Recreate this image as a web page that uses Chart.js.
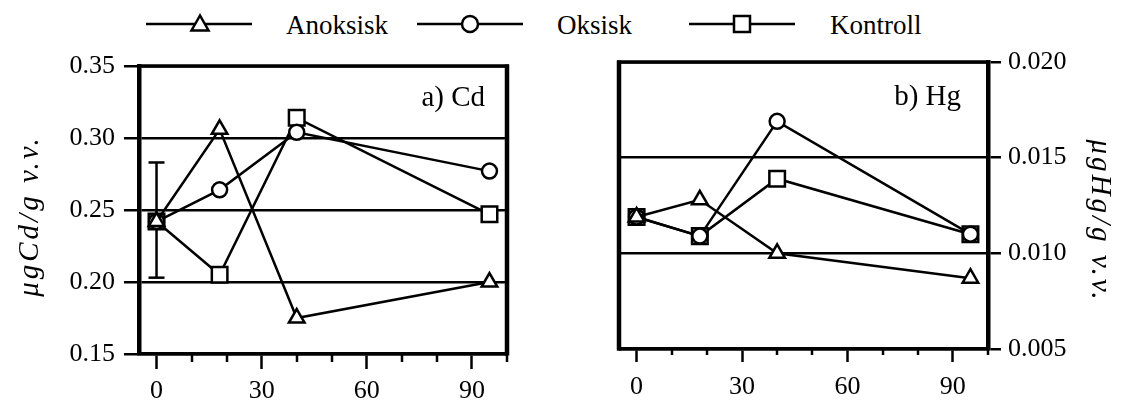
<!DOCTYPE html>
<html>
<head>
<meta charset="utf-8">
<script src="https://cdn.jsdelivr.net/npm/chart.js@4.4.1/dist/chart.umd.min.js"></script>
<style>
  html, body { margin: 0; padding: 0; background: #fff; }
  body { width: 1128px; height: 400px; position: relative; overflow: hidden; font-family: "Liberation Serif", "Times New Roman", serif; }
  .panel { position: absolute; top: 0; width: 564px; height: 400px; }
  .lg-sym { position: absolute; top: 12px; }
  .lg-txt { position: absolute; top: 12px; font-size: 27px; line-height: 27px; color: #000; white-space: nowrap; }
</style>
</head>
<body>
<svg class="lg-sym" style="left:146px" width="106" height="24">
  <line x1="0" y1="12" x2="106" y2="12" stroke="#000" stroke-width="2.5"/>
  <polygon points="54,3.5 45.5,18.5 62.5,18.5" fill="#fff" stroke="#000" stroke-width="2.5"/>
</svg>
<div class="lg-txt" style="left:286px">Anoksisk</div>
<svg class="lg-sym" style="left:417px" width="106" height="24">
  <line x1="0" y1="12" x2="106" y2="12" stroke="#000" stroke-width="2.5"/>
  <circle cx="53" cy="12" r="8" fill="#fff" stroke="#000" stroke-width="2.5"/>
</svg>
<div class="lg-txt" style="left:557px">Oksisk</div>
<svg class="lg-sym" style="left:689px" width="106" height="24">
  <line x1="0" y1="12" x2="106" y2="12" stroke="#000" stroke-width="2.5"/>
  <rect x="45" y="4" width="16" height="16" fill="#fff" stroke="#000" stroke-width="2.5"/>
</svg>
<div class="lg-txt" style="left:830px">Kontroll</div>

<div class="panel" style="left:0"><canvas id="cd"></canvas></div>
<div class="panel" style="left:564px"><canvas id="hg"></canvas></div>

<script>
// ---- data ----
const days = [0, 18, 40, 95];
const cdAnoksisk = [0.242, 0.306, 0.175, 0.200];
const cdOksisk   = [0.242, 0.264, 0.304, 0.277];
const cdKontroll = [0.242, 0.205, 0.314, 0.247];
const cdErrDay = [0, 0];
const cdErrRange = [0.203, 0.283];
const hgAnoksisk = [0.0119, 0.0128, 0.0100, 0.0087];
const hgOksisk   = [0.0119, 0.0109, 0.0169, 0.0110];
const hgKontroll = [0.0119, 0.0109, 0.0139, 0.0110];
const xTickLabels = [0, 30, 60, 90];
const seriesNames = ['Anoksisk', 'Oksisk', 'Kontroll'];

const FONT = "'Liberation Serif', 'Times New Roman', serif";
const pts = (xs, ys) => xs.map((x, i) => ({ x: x, y: ys[i] }));

function lineDs(label, ys, style, r) {
  return {
    label: label, data: pts(days, ys),
    borderColor: '#000', borderWidth: 2.5,
    pointStyle: style, pointRadius: r, pointHoverRadius: r,
    pointBackgroundColor: '#fff', pointBorderColor: '#000', pointBorderWidth: 2.5,
    tension: 0, fill: false
  };
}

const framePlugin = {
  id: 'frame',
  afterDraw(chart, args, opts) {
    const a = chart.chartArea, ctx = chart.ctx;
    ctx.save();
    ctx.strokeStyle = '#000';
    ctx.lineWidth = 3.5;
    ctx.beginPath();
    ctx.moveTo(a.left - 2, a.top); ctx.lineTo(a.right + 2, a.top);
    ctx.stroke();
    ctx.lineWidth = 4.5;
    ctx.beginPath();
    const sx = opts.side === 'left' ? a.left : a.right;
    ctx.moveTo(sx, a.top - 1.5); ctx.lineTo(sx, a.bottom + 1.5);
    ctx.stroke();
    ctx.restore();
  }
};

const minorTickPlugin = {
  id: 'minorTicks',
  afterDraw(chart, args, o) {
    const s = chart.scales.x, ctx = chart.ctx;
    ctx.save();
    ctx.strokeStyle = '#000';
    ctx.lineWidth = 2.5;
    s.ticks.forEach(t => {
      if (xTickLabels.indexOf(t.value) === -1) {
        const px = Math.round(s.getPixelForValue(t.value));
        ctx.beginPath();
        ctx.moveTo(px, s.top); ctx.lineTo(px, s.top + o.len);
        ctx.stroke();
      }
    });
    ctx.restore();
  }
};

const textPlugin = {
  id: 'texts',
  afterDraw(chart, args, o) {
    const a = chart.chartArea, ctx = chart.ctx;
    ctx.save();
    ctx.fillStyle = '#000';
    ctx.font = '29px ' + FONT;
    ctx.textAlign = 'right';
    ctx.textBaseline = 'alphabetic';
    ctx.fillText(o.panel, a.right - o.panelInset, a.top + o.panelBase);
    ctx.font = 'italic 29px ' + FONT;
    try { ctx.letterSpacing = '3px'; } catch (e) {}
    ctx.textAlign = 'center';
    ctx.textBaseline = 'middle';
    ctx.translate(o.titleX, o.titleY);
    ctx.rotate(o.titleRot);
    ctx.fillText(o.title, 0, 0);
    ctx.restore();
  }
};

function xScale(h, tl, pad) {
  return {
    type: 'linear', min: -5, max: 100,
    afterFit(s) { s.height = h; },
    ticks: {
      stepSize: 10, includeBounds: false, autoSkip: false, maxRotation: 0,
      color: '#000', font: { family: FONT, size: 26 }, padding: pad,
      callback: v => xTickLabels.indexOf(v) !== -1 ? String(v) : ''
    },
    grid: {
      drawOnChartArea: false, drawTicks: true, tickLength: tl, tickWidth: 2.5,
      tickColor: c => (c.tick && xTickLabels.indexOf(c.tick.value) !== -1) ? '#000' : 'rgba(0,0,0,0)'
    },
    border: { display: true, color: '#000', width: 3.5 }
  };
}

function yScale(pos, min, max, step, dec, w, tl, pad) {
  return {
    type: 'linear', position: pos, min: min, max: max,
    afterFit(s) { s.width = w; },
    ticks: {
      stepSize: step, color: '#000', font: { family: FONT, size: 26 }, padding: pad,
      callback: v => Number(v).toFixed(dec)
    },
    grid: {
      drawOnChartArea: true, color: '#000', lineWidth: 2.5,
      drawTicks: true, tickLength: tl, tickWidth: 2.5, tickColor: '#000'
    },
    border: { display: true, color: '#000', width: 4.5 }
  };
}

const common = { responsive: true, maintainAspectRatio: false, animation: false, events: [] };

new Chart(document.getElementById('cd'), {
  type: 'line',
  data: {
    datasets: [
      lineDs(seriesNames[0], cdAnoksisk, 'triangle', 9),
      lineDs(seriesNames[1], cdOksisk, 'circle', 7.5),
      lineDs(seriesNames[2], cdKontroll, 'rect', 11),
      {
        label: 'sd', data: pts(cdErrDay, cdErrRange),
        borderColor: '#000', borderWidth: 2.5,
        pointStyle: 'line', pointRadius: 8, pointBorderColor: '#000', pointBorderWidth: 2.5
      }
    ]
  },
  options: Object.assign({}, common, {
    layout: { padding: { left: 0, right: 57, top: 66, bottom: 0 } },
    scales: { x: xScale(46, 15, 7), y: yScale('left', 0.15, 0.35, 0.05, 2, 139, 15, 9) },
    plugins: {
      legend: { display: false }, tooltip: { enabled: false },
      frame: { side: 'right' },
      minorTicks: { len: 8 },
      texts: { panel: 'a) Cd', panelInset: 22, panelBase: 40, title: 'μgCd/g v.v.', titleX: 30, titleY: 216, titleRot: -Math.PI / 2 }
    }
  }),
  plugins: [framePlugin, minorTickPlugin, textPlugin]
});

new Chart(document.getElementById('hg'), {
  type: 'line',
  data: {
    datasets: [
      lineDs(seriesNames[0], hgAnoksisk, 'triangle', 9),
      lineDs(seriesNames[1], hgOksisk, 'circle', 7.5),
      lineDs(seriesNames[2], hgKontroll, 'rect', 11)
    ]
  },
  options: Object.assign({}, common, {
    layout: { padding: { left: 55, right: 0, top: 62, bottom: 0 } },
    scales: { x: xScale(51, 13, 10), y: yScale('right', 0.005, 0.020, 0.005, 3, 140, 13, 7) },
    plugins: {
      legend: { display: false }, tooltip: { enabled: false },
      frame: { side: 'left' },
      minorTicks: { len: 6 },
      texts: { panel: 'b) Hg', panelInset: 27, panelBase: 43, title: 'μgHg/g v.v.', titleX: 536, titleY: 221, titleRot: Math.PI / 2 }
    }
  }),
  plugins: [framePlugin, minorTickPlugin, textPlugin]
});
</script>
</body>
</html>
